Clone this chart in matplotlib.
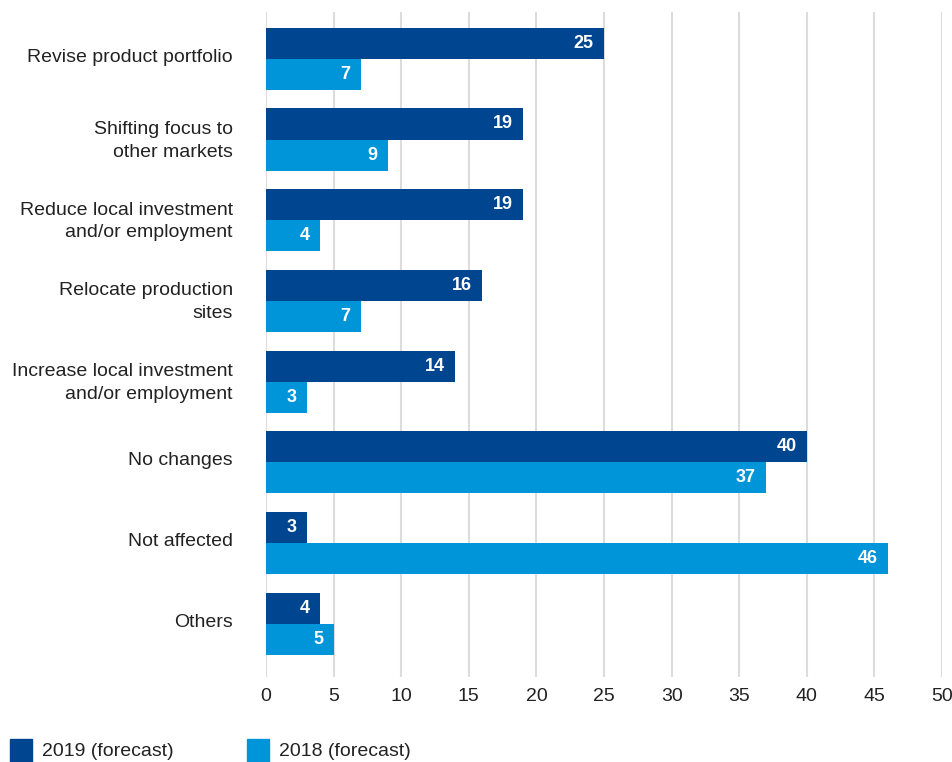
import matplotlib
matplotlib.use("Agg")
import matplotlib.pyplot as plt
import numpy as np
from matplotlib.patches import Rectangle

categories = [
    "Revise product portfolio",
    "Shifting focus to\nother markets",
    "Reduce local investment\nand/or employment",
    "Relocate production\nsites",
    "Increase local investment\nand/or employment",
    "No changes",
    "Not affected",
    "Others",
]
values_2019 = [25, 19, 19, 16, 14, 40, 3, 4]
values_2018 = [7, 9, 4, 7, 3, 37, 46, 5]
series_names = ["2019 (forecast)", "2018 (forecast)"]
x_ticks = [0, 5, 10, 15, 20, 25, 30, 35, 40, 45, 50]

c2019 = "#00458F"
c2018 = "#0095D9"
text_color = "#222222"
font = "Liberation Sans"

fig = plt.figure(figsize=(9.53, 7.62), dpi=100)
ax = fig.add_axes([266 / 953, 1 - 677 / 762, (942 - 266) / 953, (677 - 12) / 762])

y = np.arange(len(categories))
h = 0.385
b1 = ax.barh(y - h / 2, values_2019, height=h, color=c2019, zorder=3)
b2 = ax.barh(y + h / 2, values_2018, height=h, color=c2018, zorder=3)

for bars, vals in ((b1, values_2019), (b2, values_2018)):
    for bar, v in zip(bars, vals):
        ax.annotate(str(v), xy=(v, bar.get_y() + bar.get_height() / 2),
                    xytext=(-7.5, 0), textcoords="offset points",
                    ha="right", va="center", color="white",
                    fontsize=13, fontweight="bold", family=font, zorder=4)

ax.set_xlim(0, 50)
ax.set_ylim(7.66, -0.58)
ax.set_xticks(x_ticks)
ax.set_xticklabels([str(t) for t in x_ticks], fontsize=14, color=text_color, family=font)
ax.set_yticks(y - 0.045)
ax.set_yticklabels(categories, fontsize=14, color=text_color, family=font,
                   linespacing=1.45)
ax.tick_params(axis="both", length=0)
ax.tick_params(axis="y", pad=24)
ax.tick_params(axis="x", pad=8)
for lbl in ax.get_yticklabels():
    lbl.set_horizontalalignment("right")
    lbl.set_multialignment("right")
ax.grid(axis="x", color="#dcdcdc", linewidth=1.5, zorder=0)
for s in ax.spines.values():
    s.set_visible(False)

# legend drawn in figure coordinates
W, H = 953, 762
for x0, color, name in ((10, c2019, series_names[0]), (247, c2018, series_names[1])):
    fig.patches.append(Rectangle((x0 / W, 1 - 762 / H), 22 / W, 23 / H,
                                 transform=fig.transFigure, color=color))
    fig.text((x0 + 32) / W, 1 - 752 / H, name, fontsize=14, color=text_color,
             family=font, va="center", ha="left")

fig.savefig("out.png", dpi=100)
